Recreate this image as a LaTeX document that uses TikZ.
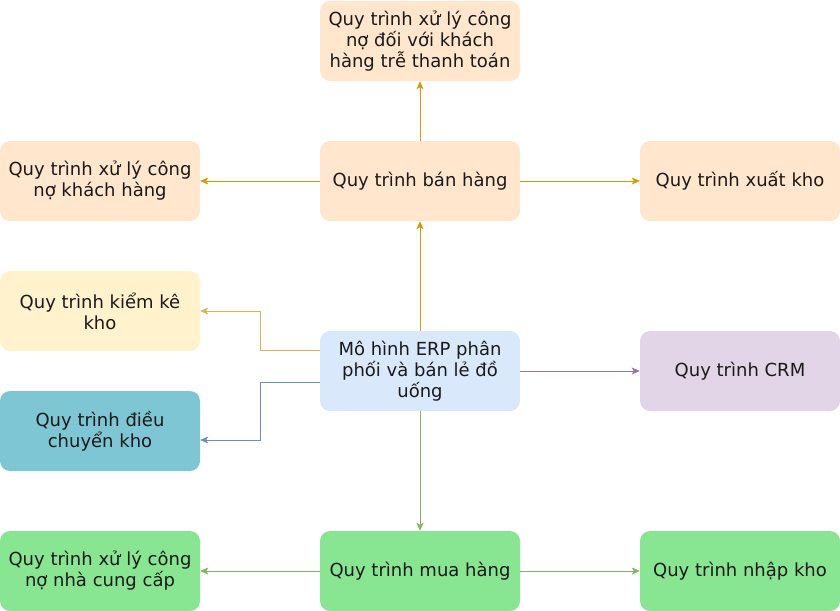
\documentclass[tikz,border=0pt]{standalone}
\usepackage{fontspec}
\setmainfont{DejaVu Sans}
\usetikzlibrary{arrows.meta}

\definecolor{peach}{HTML}{FFE6CC}
\definecolor{peachline}{HTML}{D79B00}
\definecolor{cream}{HTML}{FFF2CC}
\definecolor{creamline}{HTML}{D6B656}
\definecolor{skyfill}{HTML}{DAE8FC}
\definecolor{skyline}{HTML}{6C8EBF}
\definecolor{lilac}{HTML}{E1D5E7}
\definecolor{lilacline}{HTML}{9673A6}
\definecolor{teal}{HTML}{7EC6D4}
\definecolor{mint}{HTML}{88E592}
\definecolor{mintline}{HTML}{82B366}
\definecolor{ink}{HTML}{1A1A1A}

\begin{document}
\begin{tikzpicture}[x=1pt,y=-1pt,
  proc/.style={rounded corners=10pt,minimum width=200pt,minimum height=80pt,
    inner sep=0pt,align=center,text=ink,
    font=\fontsize{18}{21}\selectfont},
  link/.style={line width=0.8pt,-{Stealth[length=8pt,width=7pt,inset=2pt]}}]
\useasboundingbox (0,0) rectangle (840,610);
% boxes
\node[proc,fill=peach] (debt) at (420,41) {Quy trình xử lý công\\nợ đối với khách\\hàng trễ thanh toán};
\node[proc,fill=peach] (custdebt) at (100,181) {Quy trình xử lý công\\nợ khách hàng};
\node[proc,fill=peach] (sale) at (420,181) {Quy trình bán hàng};
\node[proc,fill=peach] (out) at (740,181) {Quy trình xuất kho};
\node[proc,fill=cream] (count) at (100,311) {Quy trình kiểm kê\\kho};
\node[proc,fill=skyfill] (erp) at (420,371) {Mô hình ERP phân\\phối và bán lẻ đồ\\uống};
\node[proc,fill=lilac] (crm) at (740,371) {Quy trình CRM};
\node[proc,fill=teal] (move) at (100,431) {Quy trình điều\\chuyển kho};
\node[proc,fill=mint] (suppdebt) at (100,571) {Quy trình xử lý công\\nợ nhà cung cấp};
\node[proc,fill=mint] (buy) at (420,571) {Quy trình mua hàng};
\node[proc,fill=mint] (in) at (740,571) {Quy trình nhập kho};
% links
\draw[link,peachline] (sale) -- (debt);
\draw[link,peachline] (sale) -- (custdebt);
\draw[link,peachline] (sale) -- (out);
\draw[link,peachline] (erp) -- (sale);
\draw[link,creamline] (erp.west |- 0,350) -| (260,311) -- (count.east);
\draw[link,skyline] (erp.west |- 0,382) -| (260,440) -- (move.east |- 0,440);
\draw[link,lilacline] (erp) -- (crm);
\draw[link,mintline] (erp) -- (buy);
\draw[link,mintline] (buy) -- (suppdebt);
\draw[link,mintline] (buy) -- (in);
\end{tikzpicture}
\end{document}
